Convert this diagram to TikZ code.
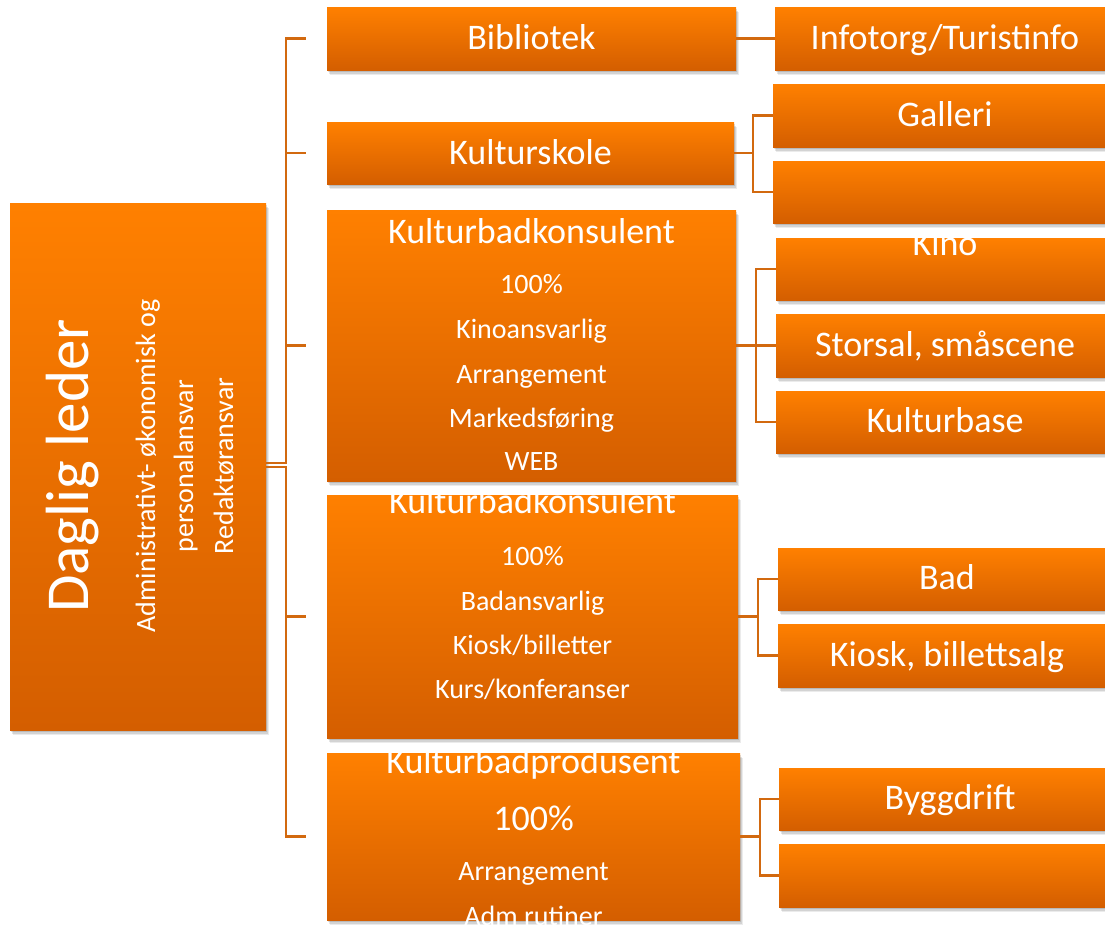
\documentclass[tikz,border=0pt]{standalone}
\usepackage{fontspec}
\setmainfont{Carlito}
\usetikzlibrary{shadows}
\definecolor{otop}{RGB}{255,128,0}
\definecolor{obot}{RGB}{212,94,0}
\definecolor{lnc}{RGB}{210,105,15}
\begin{document}
\begin{tikzpicture}[x=1pt,y=-1pt,
  box/.style={rectangle, inner sep=0pt, draw=none, top color=otop, bottom color=obot,
    drop shadow={shadow xshift=3pt, shadow yshift=-5pt, opacity=0.08, fill=black},
    drop shadow={shadow xshift=2pt, shadow yshift=-3.5pt, opacity=0.1, fill=black},
    drop shadow={shadow xshift=1pt, shadow yshift=-2pt, opacity=0.12, fill=black}},
  conn/.style={draw=lnc, line width=2.2pt},
  big/.style={text=white, font=\fontsize{36}{36}\selectfont, anchor=base, inner sep=0pt},
  sub/.style={text=white, font=\fontsize{28}{28}\selectfont, anchor=base, inner sep=0pt},
  huge/.style={text=white, font=\fontsize{61}{61}\selectfont, anchor=base, inner sep=0pt}]
\useasboundingbox (0,0) rectangle (1105,926);

% ---------- boxes ----------
\node[box, minimum width=256pt, minimum height=527pt] (dl) at (138,466.5) {};
\node[box, minimum width=409pt, minimum height=63pt] (bib) at (531.5,38.5) {};
\node[box, minimum width=407pt, minimum height=62pt] (ksk) at (530.5,153) {};
\node[box, minimum width=409pt, minimum height=271pt] (kb1) at (531.5,345.5) {};
\node[box, minimum width=411pt, minimum height=243pt] (kb2) at (532.5,616.5) {};
\node[box, minimum width=413pt, minimum height=167pt] (kp) at (533.5,836.5) {};

\node[box, minimum width=332pt, minimum height=63pt] (info) at (941,38.5) {};
\node[box, minimum width=334pt, minimum height=63pt] (gal) at (940,115.5) {};
\node[box, minimum width=334pt, minimum height=62pt] (emp1) at (940,192) {};
\node[box, minimum width=331pt, minimum height=62pt] (kino) at (941.5,269) {};
\node[box, minimum width=331pt, minimum height=63pt] (stor) at (941.5,345.5) {};
\node[box, minimum width=331pt, minimum height=62pt] (kbase) at (941.5,422) {};
\node[box, minimum width=329pt, minimum height=62pt] (bad) at (942.5,579) {};
\node[box, minimum width=329pt, minimum height=63pt] (kiosk) at (942.5,655.5) {};
\node[box, minimum width=328pt, minimum height=62pt] (bygg) at (943,799) {};
\node[box, minimum width=328pt, minimum height=63pt] (emp2) at (943,875.5) {};

% ---------- connectors ----------
\draw[conn] ([yshift=3.5pt]dl.east) -- ++(20,0) |- ([xshift=-21pt]bib.west);
\draw[conn] ([yshift=3.5pt]dl.east) -- ++(20,0) |- ([xshift=-21pt]ksk.west);
\draw[conn] ([yshift=3.5pt]dl.east) -- ++(20,0) |- ([xshift=-21pt]kb1.west);
\draw[conn] ([yshift=-0.5pt]dl.east) -- ++(20,0) |- ([xshift=-21pt]kb2.west);
\draw[conn] ([yshift=-0.5pt]dl.east) -- ++(20,0) |- ([xshift=-21pt]kp.west);

\draw[conn] (bib.east) -- (info.west);
\draw[conn] (ksk.east) -- ++(19,0) |- (gal.west);
\draw[conn] (ksk.east) -- ++(19,0) |- (emp1.west);
\draw[conn] (kb1.east) -- ++(20,0) |- (kino.west);
\draw[conn] (kb1.east) -- ++(20,0) |- (stor.west);
\draw[conn] (kb1.east) -- ++(20,0) |- (kbase.west);
\draw[conn] (kb2.east) -- ++(20,0) |- (bad.west);
\draw[conn] (kb2.east) -- ++(20,0) |- (kiosk.west);
\draw[conn] (kp.east) -- ++(20,0) |- (bygg.west);
\draw[conn] (kp.east) -- ++(20,0) |- (emp2.west);

% ---------- texts ----------
\node[huge, rotate=90] (tdl) at (88,466) {Daglig leder};
\node[sub, rotate=90] (tdl1) at (155,466) {Administrativt- økonomisk og};
\node[sub, rotate=90] (tdl2) at (193,466) {personalansvar};
\node[sub, rotate=90] (tdl3) at (233,466) {Redaktøransvar};

\node[big] (tbib) at (531.5,49) {Bibliotek};
\node[big] (tksk) at (530.5,164) {Kulturskole};

\node[big] (tkb1) at (531.5,243) {Kulturbadkonsulent};
\node[sub] (tkb1a) at (531.5,293) {100\%};
\node[sub] (tkb1b) at (531.5,338) {Kinoansvarlig};
\node[sub] (tkb1c) at (531.5,383) {Arrangement};
\node[sub] (tkb1d) at (531.5,427) {Markedsføring};
\node[sub] (tkb1e) at (531.5,470) {WEB};

\node[big] (tkb2) at (532.5,513) {Kulturbadkonsulent};
\node[sub] (tkb2a) at (532.5,565) {100\%};
\node[sub] (tkb2b) at (532.5,610) {Badansvarlig};
\node[sub] (tkb2c) at (532.5,654) {Kiosk/billetter};
\node[sub] (tkb2d) at (532.5,698) {Kurs/konferanser};

\node[big] (tkp) at (533.5,773) {Kulturbadprodusent};
\node[big] (tkpa) at (533.5,830) {100\%};
\node[sub] (tkpb) at (533.5,880) {Arrangement};
\node[sub] (tkpc) at (533.5,925) {Adm rutiner};

\node[big] (tinfo) at (945,49) {Infotorg/Turistinfo};
\node[big] (tgal) at (945,126) {Galleri};
\node[big] (tkino) at (945,255) {Kino};
\node[big] (tstor) at (945,356) {Storsal, småscene};
\node[big] (tkbase) at (945,432) {Kulturbase};
\node[big] (tbad) at (947,589) {Bad};
\node[big] (tkiosk) at (947,666) {Kiosk, billettsalg};
\node[big] (tbygg) at (950,809) {Byggdrift};
\end{tikzpicture}
\end{document}
